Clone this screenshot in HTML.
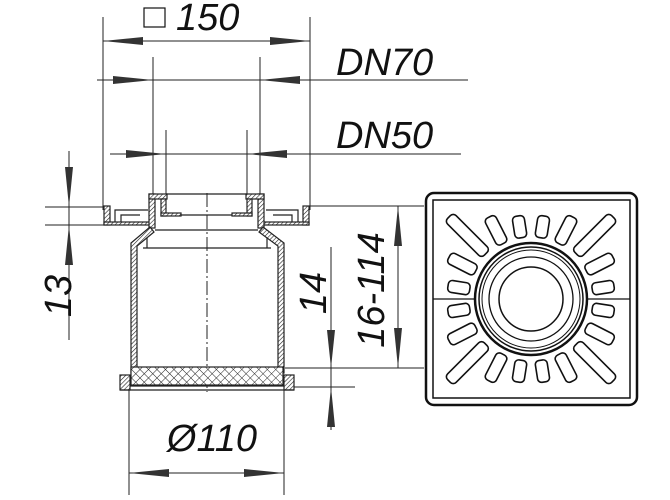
<!DOCTYPE html>
<html><head><meta charset="utf-8">
<style>
html,body{margin:0;padding:0;background:#fff;}
svg{display:block;}
text{font-family:"Liberation Sans",sans-serif;font-style:italic;fill:#111;}
</style></head><body>
<svg width="670" height="500" viewBox="0 0 670 500" xmlns="http://www.w3.org/2000/svg">
<defs>
<pattern id="h" width="3" height="3" patternUnits="userSpaceOnUse" patternTransform="rotate(45)">
<rect width="3" height="3" fill="#fff"/><line x1="0" y1="0" x2="0" y2="3" stroke="#222" stroke-width="1.2"/>
</pattern>
<pattern id="x" width="6" height="6" patternUnits="userSpaceOnUse" patternTransform="rotate(45)">
<rect width="6" height="6" fill="#fff"/><path d="M0 0V6M0 0H6" stroke="#222" stroke-width="1"/>
</pattern>
</defs>
<g stroke="#222" stroke-width="1" fill="none">
<line x1="103" y1="17" x2="103" y2="210"/><line x1="310" y1="17" x2="310" y2="210"/>
<line x1="103" y1="41" x2="310" y2="41"/>
<line x1="97" y1="80" x2="468" y2="80"/>
<line x1="153" y1="57" x2="153" y2="196"/><line x1="260" y1="57" x2="260" y2="196"/>
<line x1="110" y1="154" x2="461" y2="154"/>
<line x1="166" y1="130" x2="166" y2="215"/><line x1="247" y1="130" x2="247" y2="215"/>
<line x1="69" y1="151" x2="69" y2="340"/>
<line x1="45" y1="207" x2="104" y2="207"/><line x1="45" y1="225" x2="104" y2="225"/>
<line x1="310" y1="206" x2="424" y2="206"/>
<line x1="398" y1="206" x2="398" y2="368"/>
<line x1="285" y1="368" x2="424" y2="368"/>
<line x1="331" y1="247" x2="331" y2="430"/>
<line x1="290" y1="387" x2="355" y2="387"/>
<line x1="129" y1="388" x2="129" y2="495"/><line x1="284" y1="388" x2="284" y2="495"/>
<line x1="129" y1="473" x2="284" y2="473"/>
<line x1="207" y1="193" x2="207" y2="392" stroke-dasharray="14 3 2 3"/>
</g>
<g fill="#333">
<polygon points="103,41 143,37 143,45"/><polygon points="310,41 270,37 270,45"/>
<polygon points="153,80 113,76 113,84"/><polygon points="260,80 300,76 300,84"/>
<polygon points="166,154 126,150 126,158"/><polygon points="247,154 287,150 287,158"/>
<polygon points="69,207 65,167 73,167"/><polygon points="69,225 65,265 73,265"/>
<polygon points="398,206 394,246 402,246"/><polygon points="398,368 394,328 402,328"/>
<polygon points="331,368 327,330 335,330"/><polygon points="331,387 327,427 335,427"/>
<polygon points="129,473 169,469 169,477"/><polygon points="284,473 244,469 244,477"/>
</g>
<g stroke="#222" stroke-width="1.2">
<rect x="104" y="206" width="6" height="19" fill="url(#h)"/>
<rect x="303" y="206" width="6" height="19" fill="url(#h)"/>
<rect x="104" y="222" width="46" height="3" fill="url(#h)"/>
<rect x="263" y="222" width="46" height="3" fill="url(#h)"/>
<path d="M115 222V210H148M121 222V215H140" fill="none"/>
<path d="M298 222V210H266M292 222V215H273" fill="none"/>
<rect x="149" y="194" width="6" height="34" fill="url(#h)"/>
<rect x="258" y="194" width="6" height="34" fill="url(#h)"/>
<rect x="149" y="194" width="18" height="5" fill="url(#h)"/>
<rect x="246" y="194" width="18" height="5" fill="url(#h)"/>
<rect x="161" y="199" width="5" height="17" fill="url(#h)"/>
<rect x="247" y="199" width="5" height="17" fill="url(#h)"/>
<rect x="161" y="213" width="20" height="3" fill="url(#h)"/>
<rect x="232" y="213" width="20" height="3" fill="url(#h)"/>
<line x1="166" y1="194" x2="247" y2="194"/>
<line x1="181" y1="215" x2="232" y2="215"/>
<line x1="155" y1="230" x2="258" y2="230"/>
<line x1="143" y1="248" x2="271" y2="248"/>
<line x1="147" y1="234" x2="147" y2="248"/><line x1="267" y1="234" x2="267" y2="248"/>
<path d="M150 227L131 243V373H137V246L154 232Z" fill="url(#h)"/>
<path d="M263 227L284 243V373H278V246L259 232Z" fill="url(#h)"/>
<rect x="131" y="367" width="152" height="18" fill="url(#x)"/>
<rect x="120" y="375" width="10" height="15" fill="url(#h)"/>
<rect x="284" y="375" width="10" height="15" fill="url(#h)"/>
<line x1="120" y1="390" x2="294" y2="390"/>
<line x1="130" y1="386" x2="284" y2="386"/>
</g>
<g stroke="#111" fill="none">
<rect x="426" y="193" width="211" height="212" rx="8" stroke-width="2.5"/>
<rect x="433" y="200" width="197" height="198" stroke-width="1.5"/>
<line x1="433" y1="299" x2="630" y2="299" stroke-width="1.2"/>
<circle cx="531" cy="299" r="56" stroke-width="2.5" fill="#fff"/>
<circle cx="531" cy="299" r="52" stroke-width="1.5"/>
<circle cx="531" cy="299" r="49" stroke-width="1"/>
<circle cx="531" cy="299" r="42" stroke-width="1.3"/>
<circle cx="531" cy="299" r="32" stroke-width="1.5"/>
<g stroke-width="1.6" transform="translate(531,299)">
<g id="q">
<rect x="62" y="-6" width="22" height="12" rx="4" transform="rotate(9)"/>
<rect x="62" y="-6" width="30" height="12" rx="4" transform="rotate(27)"/>
<rect x="64" y="-6" width="52" height="12" rx="4" transform="rotate(45)"/>
<rect x="62" y="-6" width="30" height="12" rx="4" transform="rotate(63)"/>
<rect x="62" y="-6" width="22" height="12" rx="4" transform="rotate(81)"/>
</g>
<use href="#q" transform="rotate(90)"/>
<use href="#q" transform="rotate(180)"/>
<use href="#q" transform="rotate(270)"/>
</g>
</g>
<rect x="144" y="8" width="21" height="19" fill="none" stroke="#111" stroke-width="1.2"/>
<text x="176" y="30" font-size="38">150</text>
<text x="336" y="75" font-size="38">DN70</text>
<text x="336" y="148" font-size="38">DN50</text>
<text transform="translate(71,296) rotate(-90)" text-anchor="middle" font-size="38">13</text>
<text transform="translate(326,293) rotate(-90)" text-anchor="middle" font-size="38">14</text>
<text transform="translate(384,290) rotate(-90)" text-anchor="middle" font-size="38">16-114</text>
<text x="212" y="451" text-anchor="middle" font-size="38">Ø110</text>
</svg>
</body></html>
